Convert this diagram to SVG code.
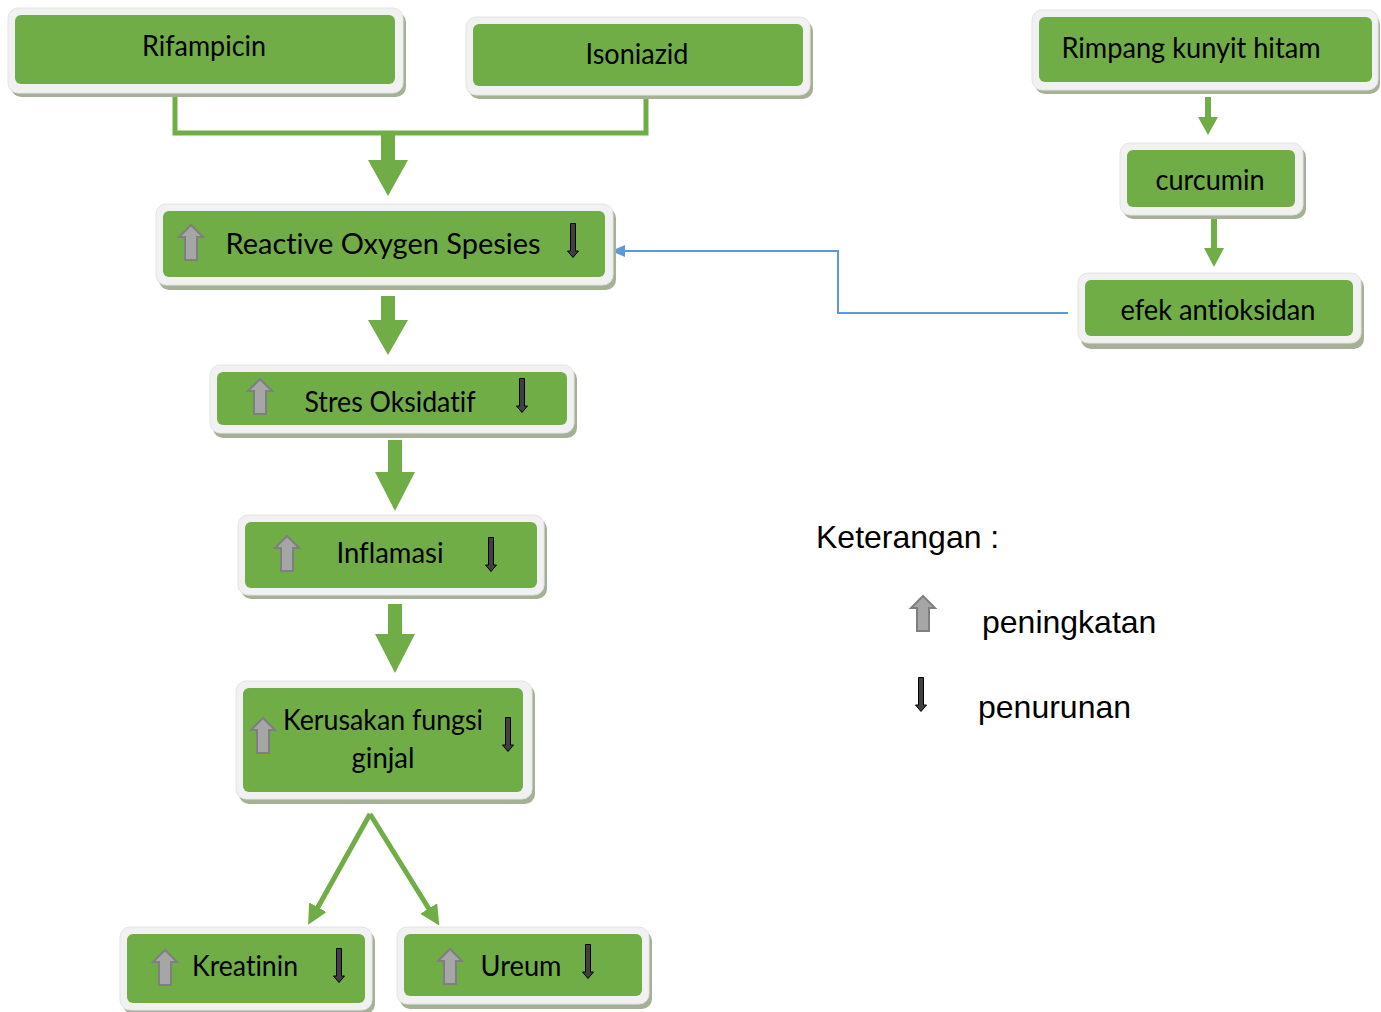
<svg xmlns="http://www.w3.org/2000/svg" width="1381" height="1012" viewBox="0 0 1381 1012">
<style>
.sh{fill:#a4b196}
.fr{fill:#f1f1f1;stroke:#e4e4e4;stroke-width:1}
.in{fill:#70ad47}
.t{font-family:Lato,"Noto Sans",sans-serif;font-size:28px;fill:#000;text-anchor:middle;font-variant-ligatures:none;font-feature-settings:"liga" 0}
.lg{font-family:"Liberation Sans",Arial,sans-serif;font-size:32px;fill:#000}
.gc{fill:#70ad47}
</style>
<defs>
<symbol id="up" viewBox="0 0 26 37" overflow="visible"><path d="M13,1 L25,13 L19,13 L19,36 L7,36 L7,13 L1,13 Z" fill="#a6a6a6" stroke="#7f7f7f" stroke-width="2" stroke-linejoin="miter"/></symbol>
<symbol id="dn" viewBox="0 0 12 35" overflow="visible"><path d="M3.5,0.5 H8.5 V28 H11.5 L6,34.5 L0.5,28 H3.5 Z" fill="#404040" stroke="#000" stroke-width="1"/></symbol>
<marker id="gh" markerWidth="4" markerHeight="4" refX="2" refY="2" orient="auto" markerUnits="strokeWidth" viewBox="0 0 4 4"><path d="M0,0 L4,2 L0,4 Z" fill="#70ad47"/></marker>
</defs>

<g id="connectors">
<polyline points="175,95 175,133 646,133 646,98" fill="none" stroke="#70ad47" stroke-width="5"/>
<rect class="gc" x="381" y="131" width="14" height="30"/><polygon class="gc" points="368,160 408,160 388,196"/>
<rect class="gc" x="381" y="296" width="14" height="25"/><polygon class="gc" points="368,320 408,320 388,355"/>
<rect class="gc" x="388" y="440" width="14" height="33"/><polygon class="gc" points="375,472 415,472 395,511"/>
<rect class="gc" x="388" y="604" width="14" height="31"/><polygon class="gc" points="375,634 415,634 395,673"/>
<rect class="gc" x="1205" y="97" width="6" height="21"/><polygon class="gc" points="1198,117 1218,117 1208,135"/>
<rect class="gc" x="1211" y="218" width="6" height="31"/><polygon class="gc" points="1204,248 1224,248 1214,267"/>
<line x1="370" y1="814" x2="313" y2="916" stroke="#70ad47" stroke-width="5" marker-end="url(#gh)"/>
<line x1="370" y1="814" x2="434" y2="917" stroke="#70ad47" stroke-width="5" marker-end="url(#gh)"/>
<polyline points="1068,313 838,313 838,251 622,251" fill="none" stroke="#5b9bd5" stroke-width="2"/>
<polygon points="611,251 625,245 625,257" fill="#5b9bd5"/>
</g>

<g id="rifampicin">
<rect class="sh" x="11" y="12" width="395" height="85" rx="10"/>
<rect class="fr" x="8" y="8" width="395" height="85" rx="10"/>
<rect class="in" x="15" y="15" width="380" height="69" rx="6"/>
<text class="t" x="204" y="56" textLength="124" lengthAdjust="spacingAndGlyphs">Rifampicin</text>
</g>
<g id="isoniazid">
<rect class="sh" x="469" y="21" width="344" height="78" rx="10"/>
<rect class="fr" x="466" y="17" width="344" height="78" rx="10"/>
<rect class="in" x="473" y="24" width="330" height="62" rx="6"/>
<text class="t" x="637" y="64" textLength="103" lengthAdjust="spacingAndGlyphs">Isoniazid</text>
</g>
<g id="rimpang">
<rect class="sh" x="1035" y="14" width="345" height="80" rx="10"/>
<rect class="fr" x="1032" y="10" width="346" height="80" rx="10"/>
<rect class="in" x="1039" y="17" width="333" height="65" rx="6"/>
<text class="t" x="1191" y="58" textLength="259" lengthAdjust="spacingAndGlyphs">Rimpang kunyit hitam</text>
</g>
<g id="curcumin">
<rect class="sh" x="1123" y="147" width="183" height="72" rx="10"/>
<rect class="fr" x="1120" y="143" width="183" height="72" rx="10"/>
<rect class="in" x="1127" y="150" width="168" height="57" rx="6"/>
<text class="t" x="1210" y="190" textLength="109" lengthAdjust="spacingAndGlyphs">curcumin</text>
</g>
<g id="efek">
<rect class="sh" x="1081" y="277" width="283" height="72" rx="10"/>
<rect class="fr" x="1078" y="273" width="283" height="70" rx="10"/>
<rect class="in" x="1085" y="280" width="268" height="56" rx="6"/>
<text class="t" x="1218" y="320" textLength="195" lengthAdjust="spacingAndGlyphs">efek antioksidan</text>
</g>
<g id="ros">
<rect class="sh" x="159" y="208" width="457" height="82" rx="10"/>
<rect class="fr" x="156" y="204" width="457" height="81" rx="10"/>
<rect class="in" x="163" y="211" width="442" height="66" rx="6"/>
<use href="#up" x="178" y="224" width="26" height="37"/>
<text class="t" x="383" y="254" textLength="315" lengthAdjust="spacingAndGlyphs">Reactive Oxygen Spesies</text>
<use href="#dn" x="567" y="223" width="12" height="35"/>
</g>
<g id="stres">
<rect class="sh" x="213" y="369" width="364" height="69" rx="10"/>
<rect class="fr" x="210" y="365" width="364" height="68" rx="10"/>
<rect class="in" x="217" y="372" width="350" height="53" rx="6"/>
<use href="#up" x="247" y="378" width="26" height="37"/>
<text class="t" x="390" y="412" textLength="171" lengthAdjust="spacingAndGlyphs">Stres Oksidatif</text>
<use href="#dn" x="516" y="378" width="12" height="35"/>
</g>
<g id="inflamasi">
<rect class="sh" x="241" y="519" width="306" height="80" rx="10"/>
<rect class="fr" x="238" y="515" width="306" height="80" rx="10"/>
<rect class="in" x="245" y="522" width="292" height="66" rx="6"/>
<use href="#up" x="274" y="535" width="26" height="37"/>
<text class="t" x="390" y="563" textLength="107" lengthAdjust="spacingAndGlyphs">Inflamasi</text>
<use href="#dn" x="485" y="537" width="12" height="35"/>
</g>
<g id="kerusakan">
<rect class="sh" x="239" y="685" width="296" height="119" rx="10"/>
<rect class="fr" x="236" y="681" width="296" height="118" rx="10"/>
<rect class="in" x="243" y="688" width="280" height="104" rx="6"/>
<use href="#up" x="250" y="717" width="26" height="37"/>
<text class="t" x="383" y="730" textLength="200" lengthAdjust="spacingAndGlyphs">Kerusakan fungsi</text>
<text class="t" x="383" y="768" textLength="63" lengthAdjust="spacingAndGlyphs">ginjal</text>
<use href="#dn" x="502" y="717" width="12" height="35"/>
</g>
<g id="kreatinin">
<rect class="sh" x="123" y="931" width="252" height="83" rx="10"/>
<rect class="fr" x="120" y="927" width="252" height="83" rx="10"/>
<rect class="in" x="127" y="934" width="238" height="69" rx="6"/>
<use href="#up" x="152" y="949" width="26" height="37"/>
<text class="t" x="245" y="976" textLength="106" lengthAdjust="spacingAndGlyphs">Kreatinin</text>
<use href="#dn" x="333" y="948" width="12" height="35"/>
</g>
<g id="ureum">
<rect class="sh" x="400" y="931" width="252" height="78" rx="10"/>
<rect class="fr" x="397" y="927" width="252" height="77" rx="10"/>
<rect class="in" x="404" y="934" width="238" height="62" rx="6"/>
<use href="#up" x="437" y="948" width="26" height="37"/>
<text class="t" x="521" y="976" textLength="81" lengthAdjust="spacingAndGlyphs">Ureum</text>
<use href="#dn" x="582" y="944" width="12" height="35"/>
</g>

<g id="legend">
<text class="lg" x="816" y="548">Keterangan :</text>
<use href="#up" x="910" y="595" width="26" height="37"/>
<text class="lg" x="982" y="633">peningkatan</text>
<use href="#dn" x="915" y="677" width="12" height="35"/>
<text class="lg" x="978" y="718">penurunan</text>
</g>
</svg>
